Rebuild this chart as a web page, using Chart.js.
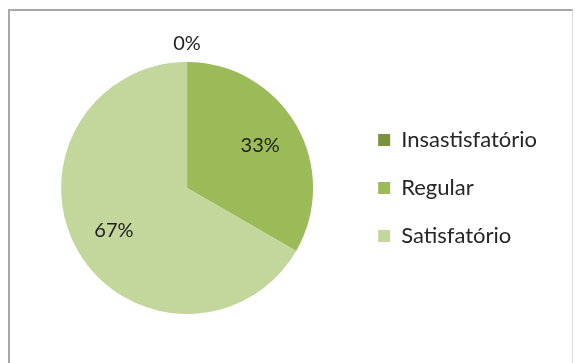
<!DOCTYPE html>
<html lang="pt">
<head>
  <meta charset="UTF-8" />
  <title>Avaliação</title>
  <script src="https://cdn.jsdelivr.net/npm/chart.js"></script>
  <style>
    body { margin: 0; background: #fff; }
    .frame {
      position: absolute;
      left: 8px;
      top: 9px;
      width: 565px;
      height: 360px;
      box-sizing: border-box;
      border: 2px solid #a8a8a8;
      border-right: 1px solid #dcdcdc;
    }
    .wrap {
      position: absolute;
      left: 0;
      top: 0;
      width: 575px;
      height: 363px;
    }
  </style>
</head>
<body>
<div class="frame"></div>
<div class="wrap"><canvas id="pie"></canvas></div>

<script>
  const categories = ['Insastisfatório', 'Regular', 'Satisfatório'];
  const counts = [0, 1, 2];
  const sliceColors = ['#77933C', '#9BBB59', '#C3D69B'];

  // percentage labels on the slices (Excel-like data labels)
  const pctLabels = {
    id: 'pctLabels',
    afterDatasetsDraw(chart) {
      const ctx = chart.ctx;
      const meta = chart.getDatasetMeta(0);
      const total = counts.reduce((a, b) => a + b, 0);
      ctx.save();
      ctx.font = '20px Lato';
      ctx.fillStyle = '#1f1f1f';
      ctx.textAlign = 'center';
      ctx.textBaseline = 'middle';
      meta.data.forEach((arc, i) => {
        const txt = Math.round(counts[i] / total * 100) + '%';
        const mid = (arc.startAngle + arc.endAngle) / 2;
        const r = counts[i] === 0 ? arc.outerRadius + 18 : arc.outerRadius * 0.67;
        ctx.fillText(txt, arc.x + Math.cos(mid) * r, arc.y + Math.sin(mid) * r);
      });
      ctx.restore();
    }
  };

  new Chart(document.getElementById('pie'), {
    type: 'pie',
    data: {
      labels: categories,
      datasets: [{
        data: counts,
        backgroundColor: sliceColors,
        borderWidth: 0
      }]
    },
    options: {
      responsive: true,
      maintainAspectRatio: false,
      animation: false,
      layout: { padding: { left: 22, right: 28, top: 62, bottom: 49 } },
      plugins: {
        legend: {
          position: 'right',
          labels: {
            boxWidth: 12,
            boxHeight: 12,
            padding: 26,
            color: '#262626',
            font: { family: 'Lato', size: 22 }
          }
        },
        tooltip: { enabled: false }
      }
    },
    plugins: [pctLabels]
  });
</script>
</body>
</html>
